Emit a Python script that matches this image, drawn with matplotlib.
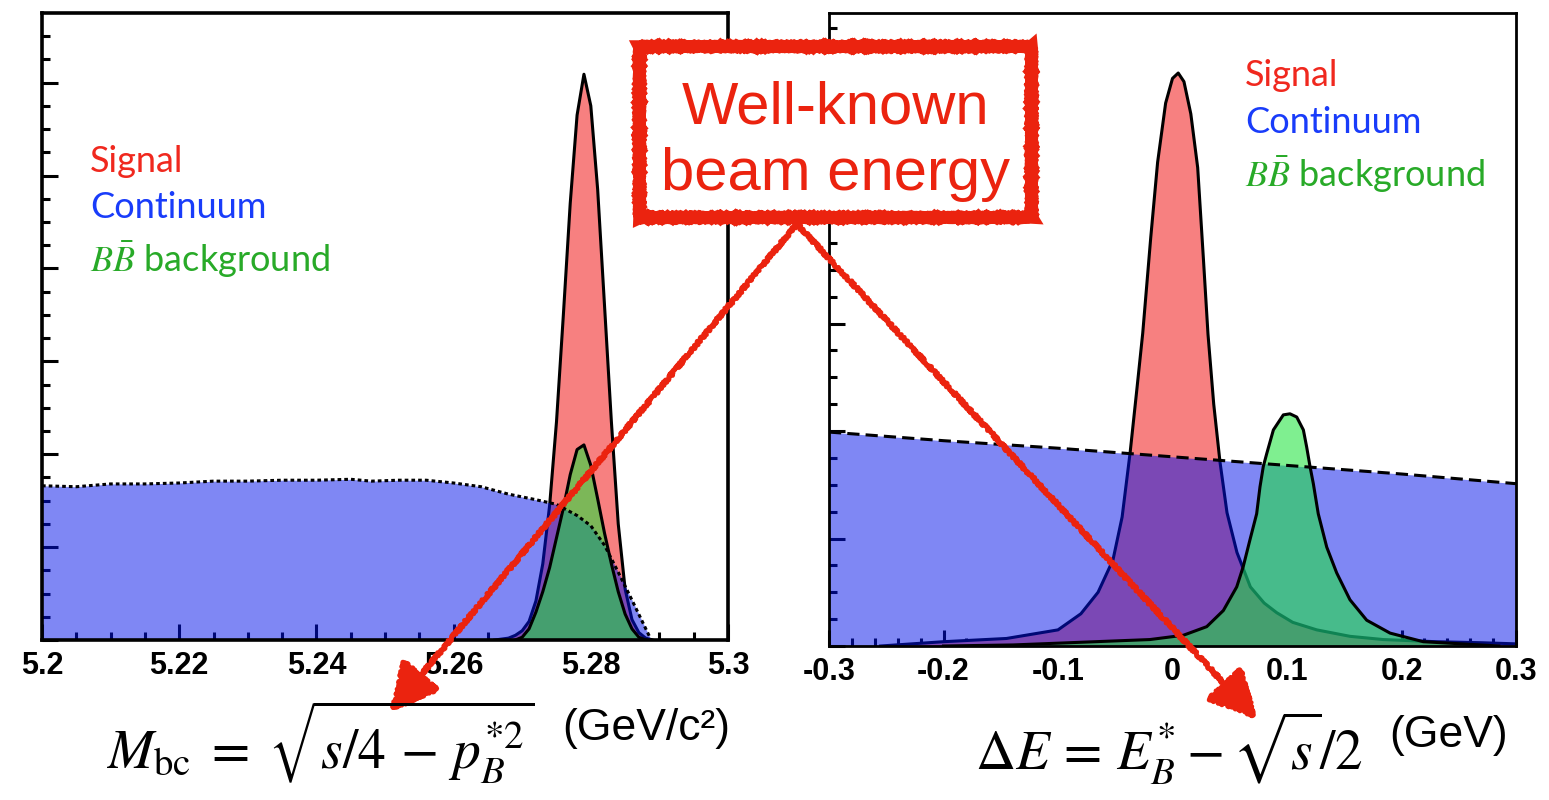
import matplotlib
matplotlib.use("Agg")
import matplotlib.pyplot as plt
from matplotlib.patches import Rectangle, FancyArrowPatch
from matplotlib.ticker import MultipleLocator

plt.rcParams["mathtext.fontset"] = "stix"

# ---- left panel: M_bc (GeV/c^2), arbitrary units ----
mbc_sig_x = [5.266, 5.268, 5.269, 5.270, 5.271, 5.272, 5.273, 5.274, 5.275, 5.276,
             5.277, 5.278, 5.279, 5.280, 5.281, 5.282, 5.283, 5.284, 5.285, 5.286,
             5.287, 5.288, 5.289]
mbc_sig_y = [0.0, 0.02, 0.05, 0.10, 0.20, 0.42, 0.82, 1.45, 2.35, 3.50,
             4.70, 5.65, 6.09, 5.75, 4.85, 3.60, 2.35, 1.25, 0.55, 0.22,
             0.08, 0.02, 0.0]

mbc_bb_x = [5.269, 5.270, 5.271, 5.272, 5.273, 5.274, 5.275, 5.276, 5.277, 5.278,
            5.279, 5.280, 5.281, 5.282, 5.283, 5.284, 5.285, 5.286, 5.287, 5.288]
mbc_bb_y = [0.0, 0.03, 0.12, 0.30, 0.52, 0.78, 1.10, 1.42, 1.78, 2.05,
            2.10, 1.88, 1.52, 1.15, 0.82, 0.52, 0.28, 0.12, 0.03, 0.0]

mbc_cont_x = [5.200, 5.205, 5.210, 5.215, 5.220, 5.225, 5.230, 5.235, 5.240, 5.245,
              5.248, 5.252, 5.256, 5.260, 5.264, 5.268, 5.272, 5.275, 5.278, 5.280,
              5.282, 5.284, 5.286, 5.2875, 5.2888]
mbc_cont_y = [1.66, 1.65, 1.68, 1.68, 1.69, 1.71, 1.71, 1.72, 1.72, 1.73,
              1.71, 1.72, 1.72, 1.69, 1.65, 1.57, 1.51, 1.46, 1.34, 1.23,
              1.02, 0.73, 0.43, 0.20, 0.0]

mbc_ticks = [5.2, 5.22, 5.24, 5.26, 5.28, 5.3]
mbc_labels = ["5.2", "5.22", "5.24", "5.26", "5.28", "5.3"]

# ---- right panel: Delta E (GeV), arbitrary units ----
de_sig_x = [-0.255, -0.20, -0.145, -0.10, -0.08, -0.065, -0.052, -0.044, -0.037, -0.031,
            -0.026, -0.019, -0.013, -0.006, 0.0, 0.005, 0.010, 0.016, 0.022, 0.027,
            0.031, 0.036, 0.0415, 0.0476, 0.0563, 0.068, 0.080, 0.091, 0.105, 0.126,
            0.155, 0.184, 0.230, 0.271, 0.30]
de_sig_y = [0.0, 0.04, 0.07, 0.15, 0.30, 0.50, 0.80, 1.20, 1.80, 2.40,
            2.91, 3.80, 4.50, 5.05, 5.28, 5.33, 5.25, 4.95, 4.45, 3.60,
            2.90, 2.25, 1.71, 1.24, 0.87, 0.55, 0.40, 0.31, 0.22, 0.15,
            0.09, 0.06, 0.04, 0.03, 0.02]

de_bb_x = [-0.20, -0.139, -0.0197, 0.0095, 0.0299, 0.0444, 0.0561, 0.0618, 0.0677, 0.0735,
           0.0764, 0.0793, 0.0823, 0.0881, 0.0968, 0.1026, 0.1085, 0.1143, 0.1172, 0.1201,
           0.1230, 0.1273, 0.1347, 0.1434, 0.1550, 0.1696, 0.1900, 0.2190, 0.2686, 0.285]
de_bb_y = [0.0, 0.01, 0.06, 0.10, 0.18, 0.33, 0.55, 0.74, 0.99, 1.23,
           1.48, 1.67, 1.79, 2.01, 2.15, 2.16, 2.13, 2.01, 1.85, 1.67,
           1.51, 1.23, 0.92, 0.68, 0.43, 0.24, 0.12, 0.04, 0.01, 0.0]

de_cont_x = [-0.3, -0.2, -0.1, 0.0, 0.1, 0.2, 0.3]
de_cont_y = [1.99, 1.91, 1.84, 1.76, 1.68, 1.60, 1.51]

de_ticks = [-0.3, -0.2, -0.1, 0.0, 0.1, 0.2, 0.3]
de_labels = ["-0.3", "-0.2", "-0.1", "0", "0.1", "0.2", "0.3"]

legend_labels = ["Signal", "Continuum", r"$B\bar{B}$ background"]
legend_colors = ["#F0281E", "#193CFA", "#28AA28"]

SIG = "#F78080"
CONT = "#0011EB"
BB = "#1CE439"
RED = "#EB230F"

W, H = 1549, 800
fig = plt.figure(figsize=(W / 100, H / 100), dpi=100)


def style_axes(ax, xminor, spine_w):
    ax.yaxis.set_major_locator(MultipleLocator(1))
    ax.yaxis.set_minor_locator(MultipleLocator(0.25))
    ax.xaxis.set_minor_locator(MultipleLocator(xminor))
    ax.tick_params(which="both", direction="in", top=False, right=False,
                   labelleft=False, width=2.2)
    ax.tick_params(which="major", length=11.5, pad=8)
    ax.tick_params(which="minor", length=5.5)
    ax.set_axisbelow(True)
    for s in ax.spines.values():
        s.set_linewidth(spine_w)


def draw_panel(ax, sx, sy, bx, by, cx, cy, cont_ls):
    ax.fill_between(sx, sy, color=SIG, lw=0, zorder=1)
    ax.plot(sx, sy, color="k", lw=2.2, zorder=1.1)
    ax.fill_between(cx, cy, color=CONT, alpha=0.5, lw=0, zorder=1.2)
    ax.fill_between(bx, by, color=BB, alpha=0.56, lw=0, zorder=1.3)
    ax.plot(bx, by, color="k", lw=2.2, zorder=1.4)
    ax.plot(cx, cy, color="k", lw=2.2, ls=cont_ls, zorder=1.5)


# left panel
ax1 = fig.add_axes([42 / W, 1 - 640 / H, 686 / W, 627 / H])
draw_panel(ax1, mbc_sig_x, mbc_sig_y, mbc_bb_x, mbc_bb_y, mbc_cont_x, mbc_cont_y,
           (0, (1.2, 1.0)))
ax1.set_xlim(5.2, 5.3)
ax1.set_ylim(0, 627 / 92.9)
ax1.set_xticks(mbc_ticks)
ax1.set_xticklabels(mbc_labels, fontsize=22, fontweight="bold", family="Liberation Sans")
style_axes(ax1, 0.005, 2.6)

# right panel
ax2 = fig.add_axes([829 / W, 1 - 646 / H, 687 / W, 633 / H])
draw_panel(ax2, de_sig_x, de_sig_y, de_bb_x, de_bb_y, de_cont_x, de_cont_y,
           (0, (4, 2)))
ax2.set_xlim(-0.3, 0.3)
ax2.set_ylim(0, 633 / 107.5)
ax2.set_xticks(de_ticks)
ax2.set_xticklabels(de_labels, fontsize=22, fontweight="bold", family="Liberation Sans")
style_axes(ax2, 0.02, 2.0)

# overlay in pixel coordinates for annotations and axis formulas
ov = fig.add_axes([0, 0, 1, 1], zorder=10)
ov.set_xlim(0, W)
ov.set_ylim(H, 0)
ov.axis("off")
ov.patch.set_alpha(0)

for i, (lab, col) in enumerate(zip(legend_labels, legend_colors)):
    ov.text(90, 172 + [0, 46, 100][i], lab, color=col, fontsize=26, family="Lato",
            va="baseline")
    ov.text(1245, 86 + [0, 47, 101][i], lab, color=col, fontsize=26, family="Lato",
            va="baseline")

box = Rectangle((639, 46), 392, 171, facecolor="white", edgecolor=RED, lw=9, zorder=3)
box.set_sketch_params(scale=0.5, length=3, randomness=2)
ov.add_patch(box)
ov.text(836, 123, "Well-known", color=RED, fontsize=43, family="Liberation Sans",
        ha="center", va="baseline", zorder=4)
ov.text(836, 190, "beam energy", color=RED, fontsize=43, family="Liberation Sans",
        ha="center", va="baseline", zorder=4)

for tip in [(390, 712), (1257, 719)]:
    arr = FancyArrowPatch((797, 224), tip, arrowstyle="-|>,head_length=1.5,head_width=0.75",
                          mutation_scale=20, color=RED, lw=3.5, shrinkA=0, shrinkB=0,
                          zorder=2)
    arr.set_sketch_params(scale=1.5, length=4, randomness=3)
    ov.add_patch(arr)

ov.text(106, 770, r"$M_{\mathrm{bc}}\;=\;\sqrt{s/4\,-\,p_B^{*2}}$", fontsize=40,
        ha="left", va="baseline")
ov.text(562, 740, "(GeV/c²)", fontsize=32, family="Liberation Sans",
        ha="left", va="baseline")
ov.text(975, 770, r"$\Delta E\,=\,E_B^{*}-\sqrt{s}/2$", fontsize=40,
        ha="left", va="baseline")
ov.text(1389, 747, "(GeV)", fontsize=32, family="Liberation Sans",
        ha="left", va="baseline")

fig.savefig("out.png", dpi=100)
